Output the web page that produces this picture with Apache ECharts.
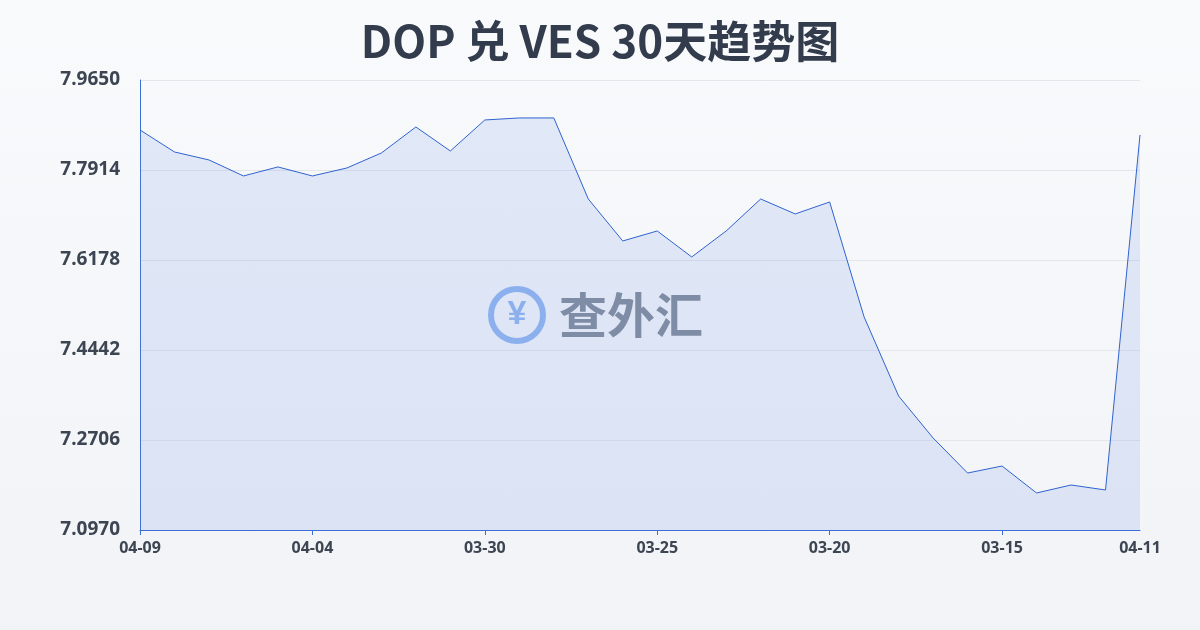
<!DOCTYPE html>
<html>
<head>
<meta charset="utf-8">
<script src="https://cdn.jsdelivr.net/npm/echarts@6/dist/echarts.min.js"></script>
<style>
html, body { margin: 0; padding: 0; }
#chart { width: 1200px; height: 630px; background: linear-gradient(180deg, #f9fafc 0%, #f1f3f6 100%); }
</style>
</head>
<body>
<div id="chart"></div>
<script>
const dates = ['04-09', '04-08', '04-07', '04-06', '04-05', '04-04', '04-03', '04-02', '04-01', '03-31',
    '03-30', '03-29', '03-28', '03-27', '03-26', '03-25', '03-24', '03-23', '03-22', '03-21',
    '03-20', '03-19', '03-18', '03-17', '03-16', '03-15', '03-14', '03-13', '03-12', '04-11'];
const rates = [7.8686, 7.8262, 7.8108, 7.7799, 7.7973, 7.7799, 7.7953, 7.8242, 7.8744, 7.8281,
    7.8879, 7.8918, 7.8918, 7.7355, 7.6545, 7.6738, 7.6237, 7.6738, 7.7355, 7.7066,
    7.7297, 7.5078, 7.3554, 7.2745, 7.2069, 7.2204, 7.1684, 7.1838, 7.1742, 7.8590];
const yMin = 7.097;
const yMax = 7.965;

const chart = echarts.init(document.getElementById('chart'));

const option = {
    title: {
        text: 'DOP 兑 VES 30天趋势图',
        left: 'center',
        top: 14,
        textStyle: { fontSize: 44, fontWeight: 'bold', color: '#333c4c', fontFamily: 'Noto Sans CJK SC' }
    },
    grid: { left: 140, right: 60, top: 80, bottom: 100 },
    graphic: [
        {
            type: 'group',
            left: 488,
            top: 286,
            children: [
                { type: 'circle', shape: { cx: 30, cy: 30, r: 26 }, style: { fill: 'none', stroke: '#94b8f0', lineWidth: 6 } },
                { type: 'text', style: { x: 30, y: 30, text: '¥', align: 'center', verticalAlign: 'middle', fontSize: 34, fontWeight: 'bold', fill: '#94b8f0' } },
                { type: 'text', style: { x: 72, y: 30, text: '查外汇', verticalAlign: 'middle', fontSize: 48, fontWeight: 'bold', fill: '#858d9a', fontFamily: 'Noto Sans CJK SC' } }
            ]
        }
    ],
    xAxis: {
        type: 'category',
        data: dates,
        boundaryGap: false,
        axisLine: { lineStyle: { color: '#3a6fd8' } },
        axisTick: { show: true, interval: 4, lineStyle: { color: '#3a6fd8' } },
        axisLabel: {
            interval: (i) => i % 5 === 0 || i === dates.length - 1,
            color: '#3d4553', fontSize: 16, fontWeight: 'bold', margin: 10, fontFamily: 'Noto Sans'
        }
    },
    yAxis: {
        type: 'value',
        min: yMin,
        max: yMax,
        interval: (yMax - yMin) / 5,
        axisLine: { show: true, lineStyle: { color: '#3a6fd8' } },
        splitLine: { lineStyle: { color: '#e3e6eb' } },
        axisLabel: {
            formatter: (v) => v.toFixed(4),
            color: '#3d4553', fontSize: 19, fontWeight: 'bold', margin: 20, fontFamily: 'Noto Sans'
        }
    },
    series: [
        {
            type: 'line',
            data: rates,
            symbol: 'none',
            lineStyle: { color: '#2f62cf', width: 1 },
            areaStyle: { color: 'rgba(95,140,230,0.22)' }
        }
    ]
};

chart.setOption(option);
</script>
</body>
</html>
